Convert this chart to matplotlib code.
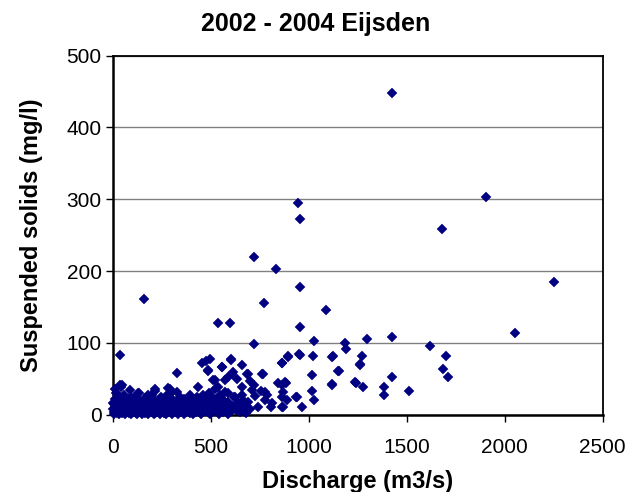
import matplotlib
matplotlib.use("Agg")
import matplotlib.pyplot as plt

title = "2002 - 2004 Eijsden"
xlabel = "Discharge (m3/s)"
ylabel = "Suspended solids (mg/l)"
x_ticks = [0, 500, 1000, 1500, 2000, 2500]
y_ticks = [0, 100, 200, 300, 400, 500]

# dense low-discharge band
discharge_low = [3,5,8,10,12,15,18,20,22,25,28,30,33,35,38,40,42,45,48,50,53,55,58,60,63,65,68,70,73,75,
                 78,80,83,85,88,90,93,95,98,100,103,106,110,113,116,120,123,126,130,133,136,140,143,146,150,
                 153,156,160,163,166,170,173,176,180,183,186,190,193,196,200,203,206,210,213,216,220,223,226,
                 230,233,236,240,243,246,250,253,256,260,263,266,270,273,276,280,283,286,290,293,296,300,303,
                 306,310,313,316,320,323,326,330,335,340,345,350,
                 27,87,163,248,342,393,47,37,40,89,129,136,214,216,284,291,435,39,161,326,10,15,60,120,180,300,330,270,200,
                 6,14,24,32,44,52,62,72,82,92,102,112,122,132,142,152,162,172,182,192,202,212,222,232,242,252,262,
                 272,282,292,302,312,322,332,342,
                 4,17,29,41,54,67,79,91,104,117,129,141,154,167,179,191,204,217,229,241,254,267,279,291,304,317,329]
solids_low = [8,15,3,22,10,5,18,12,2,8,15,25,4,11,19,7,14,2,20,9,16,4,12,22,6,17,10,3,14,20,
              7,12,2,18,9,5,15,24,8,12,3,19,6,14,10,2,17,8,13,4,21,9,15,3,11,
              18,6,13,2,22,8,16,4,12,19,7,14,3,10,18,5,13,21,8,2,15,10,4,
              19,12,7,16,3,11,22,6,14,9,2,18,12,5,15,8,20,3,13,7,17,10,4,
              21,12,6,15,9,3,18,11,5,14,8,20,
              27,23,23,25,25,27,41,41,39,34,30,30,33,35,37,35,39,83,161,58,35,30,28,26,28,30,32,26,28,
              1,6,12,1,6,12,1,7,13,1,6,12,1,7,13,1,6,12,1,7,13,1,6,12,1,7,
              13,1,6,12,1,7,13,1,6,
              16,9,14,17,10,15,17,9,16,11,18,10,15,9,17,11,16,9,18,10,15,17,9,14,16,10,15]

# medium discharge
discharge_mid = [355,360,365,370,375,380,385,390,395,400,405,410,415,420,425,430,435,440,445,450,455,460,465,470,
                 475,480,485,490,495,500,505,510,515,520,525,530,535,540,545,550,555,560,565,570,575,580,590,600,
                 610,620,630,640,650,660,670,680,690,700,
                 478,486,520,456,496,485,514,537,600,559,602,616,588,556,604,661,684,692,607,573,633,700,658,709,
                 539,590,624,641,590,530,564,666,539,607,658,684,726,
                 362,378,392,408,422,438,452,468,482,498,512,528,542,558,572,588]
solids_mid = [15,5,22,10,3,18,8,14,2,12,20,6,16,9,3,24,13,7,19,11,4,28,15,8,
              22,12,3,30,17,9,25,5,14,35,20,10,3,18,28,7,13,22,4,15,32,9,18,3,
              12,25,6,16,4,28,10,2,18,8,
              74,62,48,72,78,61,48,128,128,67,78,60,53,67,76,69,57,57,56,48,50,47,39,34,
              39,30,25,16,11,16,20,20,6,6,6,9,26,
              1,11,6,1,12,6,1,11,6,1,12,6,1,11,6,1]

# high discharge
discharge_high = [721,721,835,770,721,758,786,808,765,760,777,845,870,888,862,811,777,743,862,865,896,896,950,956,
                  956,947,957,956,1088,1029,1023,1120,1150,1120,1018,1017,1029,940,968,879,865,865,867,934,884,
                  1185,1190,1122,1153,1120,1241,1296,1274,1262,1262,1238,1276,
                  1426,1427,1386,1386,1427,1510,1619,1701,1684,1713,1682,1906,2051,2253]
solids_high = [98,219,203,155,41,33,27,11,57,57,32,44,32,20,11,16,20,11,72,72,80,82,84,83,
               122,295,272,178,146,103,81,80,61,41,55,33,21,25,11,46,41,25,11,25,44,
               100,91,81,61,42,44,105,82,71,69,45,38,
               448,108,39,27,53,33,95,81,63,53,259,303,114,184]

discharge = discharge_low + discharge_mid + discharge_high
solids = solids_low + solids_mid + solids_high

plt.rcParams['font.family'] = ['Liberation Sans', 'DejaVu Sans']

fig = plt.figure(figsize=(6.32, 4.92), dpi=100)
ax = fig.add_axes([0.1783, 0.1573, 0.9536 - 0.1783, 0.887 - 0.1573])

ax.plot(discharge, solids, linestyle='none', marker='D', markersize=5.3,
        markerfacecolor='#000080', markeredgecolor='#000080', markeredgewidth=0.3,
        clip_on=False, zorder=3)

ax.set_xlim(0, 2500)
ax.set_ylim(0, 500)
ax.set_xticks(x_ticks)
ax.set_yticks(y_ticks)
ax.set_xticklabels([str(t) for t in x_ticks])
ax.set_yticklabels([str(t) for t in y_ticks])

ax.yaxis.grid(True, color='#808080', linewidth=1.0)
ax.set_axisbelow(True)
for s in ax.spines.values():
    s.set_color('black')
    s.set_linewidth(1.3)
ax.spines['left'].set_linewidth(1.8)
ax.spines['bottom'].set_linewidth(1.8)

ax.tick_params(axis='both', direction='out', length=5, width=1.0, color='black',
               labelsize=15, pad=3)
ax.tick_params(axis='x', pad=12)

fig.text(0.5, 1 - 24 / 492, title, fontsize=18, fontweight='bold', ha='center', va='center')
ax.set_xlabel(xlabel, fontsize=17, fontweight='bold', labelpad=9)
ax.set_ylabel(ylabel, fontsize=17, fontweight='bold', labelpad=17)

fig.savefig("out.png", dpi=100, facecolor='white')
